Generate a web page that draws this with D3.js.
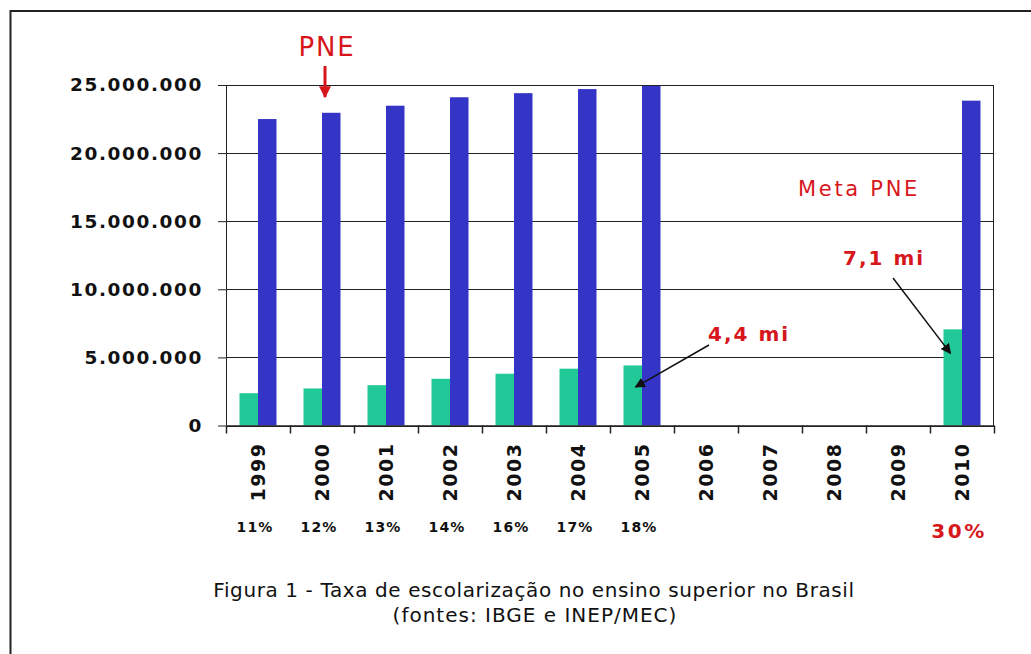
<!DOCTYPE html>
<html>
<head>
<meta charset="utf-8">
<script src="https://cdn.jsdelivr.net/npm/d3@7"></script>
<style>
    body { margin: 0; background: #fff; }
    svg { display: block; }
    .axis text { font-family: "DejaVu Sans", Verdana, sans-serif; font-weight: bold; fill: #111; }
    .axis path, .axis line { stroke: #222; }
</style>
</head>
<body>
<div id="chart"></div>
<script>
// anos, matriculas no ensino superior e populacao 18-24 anos
var years = ["1999", "2000", "2001", "2002", "2003", "2004", "2005", "2006", "2007", "2008", "2009", "2010"];
var matriculas = [2370000, 2720000, 2960000, 3430000, 3800000, 4170000, 4410000, null, null, null, null, 7060000];
var populacao = [22500000, 22960000, 23480000, 24100000, 24400000, 24700000, 24930000, null, null, null, null, 23850000];
var taxas = ["11%", "12%", "13%", "14%", "16%", "17%", "18%", "", "", "", "", "30%"];
var yTicks = [0, 5000000, 10000000, 15000000, 20000000, 25000000];

var red = "#d7161c";

var svg = d3.select("#chart").append("svg")
    .attr("width", 1031)
    .attr("height", 654);

// moldura (so borda esquerda e superior aparecem no recorte)
svg.append("path")
    .attr("d", "M10.5,654V11H1031")
    .attr("fill", "none")
    .attr("stroke", "#222")
    .attr("stroke-width", 2);

var margin = {top: 85, right: 37, bottom: 228.5, left: 226},
    width = 1031 - margin.left - margin.right,
    height = 654 - margin.top - margin.bottom,
    g = svg.append("g").attr("transform", "translate(" + margin.left + "," + margin.top + ")");

var x = d3.scaleBand()
    .domain(years)
    .range([0, width]);

var xs = d3.scaleBand()
    .domain(["mat", "pop"])
    .range([0, x.bandwidth()])
    .paddingOuter(0.73);

var y = d3.scaleLinear()
    .domain([0, 25000000])
    .range([height, 0]);

var br = d3.formatLocale({decimal: ",", thousands: ".", grouping: [3], currency: ["R$", ""]});
var fmt = br.format(",d");

// grade horizontal
g.selectAll(".grid")
    .data(yTicks)
    .enter().append("line")
    .attr("class", "grid")
    .attr("x1", 0)
    .attr("x2", width)
    .attr("y1", function (d) { return Math.round(y(d)) + 0.5; })
    .attr("y2", function (d) { return Math.round(y(d)) + 0.5; })
    .attr("stroke", "#222")
    .attr("stroke-width", 1.2);

g.append("line")
    .attr("x1", width - 0.5).attr("x2", width - 0.5)
    .attr("y1", 0).attr("y2", height)
    .attr("stroke", "#222");

var data = years.map(function (d, i) {
    return {year: d, mat: matriculas[i], pop: populacao[i]};
});

var groups = g.selectAll(".ano")
    .data(data)
    .enter().append("g")
    .attr("class", "ano")
    .attr("transform", function (d) { return "translate(" + x(d.year) + ",0)"; });

groups.filter(function (d) { return d.mat != null; })
    .append("rect")
    .attr("x", xs("mat"))
    .attr("width", xs.bandwidth())
    .attr("y", function (d) { return y(d.mat); })
    .attr("height", function (d) { return height - y(d.mat); })
    .attr("fill", "#21c898");

groups.filter(function (d) { return d.pop != null; })
    .append("rect")
    .attr("x", xs("pop"))
    .attr("width", xs.bandwidth())
    .attr("y", function (d) { return y(d.pop); })
    .attr("height", function (d) { return height - y(d.pop); })
    .attr("fill", "#3434c6");

// eixo y
var yAxis = g.append("g")
    .attr("class", "axis axis--y")
    .call(d3.axisLeft(y).tickValues(yTicks).tickFormat(fmt).tickSize(8).tickPadding(15));
yAxis.select(".domain").remove();
yAxis.append("line").attr("x1", 0.5).attr("x2", 0.5).attr("y1", 0).attr("y2", height).attr("stroke", "#222");
yAxis.selectAll("text")
    .style("font-size", "18.5px")
    .style("letter-spacing", "1.6px");

// eixo x
var xAxis = g.append("g")
    .attr("class", "axis axis--x")
    .attr("transform", "translate(0," + height + ")")
    .call(d3.axisBottom(x).tickSize(0).tickPadding(0));
xAxis.select(".domain").attr("stroke-width", 1.5);
xAxis.selectAll("text")
    .attr("transform", "rotate(-90)")
    .attr("x", -17)
    .attr("y", 0)
    .attr("dy", "0.36em")
    .attr("text-anchor", "end")
    .style("font-size", "19px")
    .style("letter-spacing", "1.5px");

xAxis.selectAll(".div")
    .data(years.concat(["end"]))
    .enter().append("line")
    .attr("class", "div")
    .attr("x1", function (d, i) { return i * x.step() + 0.5; })
    .attr("x2", function (d, i) { return i * x.step() + 0.5; })
    .attr("y1", 0)
    .attr("y2", 8)
    .attr("stroke", "#222")
    .attr("stroke-width", 1.5);

// taxas de escolarizacao
g.selectAll(".taxa")
    .data(taxas.map(function (t, i) { return {t: t, year: years[i]}; }))
    .enter().append("text")
    .attr("class", "taxa")
    .attr("x", function (d) { return x(d.year) + x.bandwidth() / 2 - 3; })
    .attr("y", function (d) { return d.year === "2010" ? height + 112 : height + 106; })
    .attr("text-anchor", "middle")
    .attr("font-family", "'DejaVu Sans', Verdana, sans-serif")
    .attr("font-weight", "bold")
    .attr("font-size", function (d) { return d.year === "2010" ? 20 : 14; })
    .attr("letter-spacing", function (d) { return d.year === "2010" ? 2.5 : 1.2; })
    .attr("fill", function (d) { return d.year === "2010" ? red : "#111"; })
    .text(function (d) { return d.t; });

// anotacoes
var defs = svg.append("defs");
defs.append("marker").attr("id", "headBlack")
    .attr("viewBox", "0 0 10 10").attr("refX", 9).attr("refY", 5)
    .attr("markerWidth", 7).attr("markerHeight", 7).attr("orient", "auto")
    .append("path").attr("d", "M0,0L10,5L0,10z").attr("fill", "#111");
defs.append("marker").attr("id", "headRed")
    .attr("viewBox", "0 0 10 10").attr("refX", 9).attr("refY", 5)
    .attr("markerWidth", 4).attr("markerHeight", 5).attr("orient", "auto")
    .append("path").attr("d", "M0,0L10,5L0,10z").attr("fill", red);

var ann = svg.append("g")
    .attr("font-family", "'DejaVu Sans', Verdana, sans-serif")
    .attr("fill", red);

var xPne = margin.left + x("2000") + x.bandwidth() / 2 + 3;
ann.append("text")
    .attr("x", xPne + 2).attr("y", 56)
    .attr("text-anchor", "middle")
    .attr("font-size", 26)
    .attr("letter-spacing", 1.8)
    .text("PNE");
ann.append("line")
    .attr("x1", xPne).attr("x2", xPne)
    .attr("y1", 66).attr("y2", 97)
    .attr("stroke", red).attr("stroke-width", 3)
    .attr("marker-end", "url(#headRed)");

ann.append("text")
    .attr("x", 798).attr("y", 196)
    .attr("font-size", 21)
    .attr("letter-spacing", 2.7)
    .text("Meta PNE");

ann.append("text")
    .attr("x", 843).attr("y", 265)
    .attr("font-size", 20)
    .attr("font-weight", "bold")
    .attr("letter-spacing", 2)
    .text("7,1 mi");

ann.append("text")
    .attr("x", 708).attr("y", 341)
    .attr("font-size", 20)
    .attr("font-weight", "bold")
    .attr("letter-spacing", 2)
    .text("4,4 mi");

var tip71 = [margin.left + x("2010") + xs("mat") + 7, margin.top + y(matriculas[11] * 0.75)];
var tip44 = [margin.left + x("2005") + xs("mat") + 12, margin.top + y(matriculas[6] * 0.64)];

ann.append("line")
    .attr("x1", 893).attr("y1", 278)
    .attr("x2", tip71[0]).attr("y2", tip71[1])
    .attr("stroke", "#111").attr("stroke-width", 1.5)
    .attr("marker-end", "url(#headBlack)");
ann.append("line")
    .attr("x1", 709).attr("y1", 345)
    .attr("x2", tip44[0]).attr("y2", tip44[1])
    .attr("stroke", "#111").attr("stroke-width", 1.5)
    .attr("marker-end", "url(#headBlack)");

// legenda da figura
var cap = svg.append("g")
    .attr("font-family", "'DejaVu Sans', Verdana, sans-serif")
    .attr("font-size", 20)
    .attr("fill", "#111")
    .attr("text-anchor", "middle");
cap.append("text").attr("x", 534).attr("y", 597).attr("letter-spacing", 0.6)
    .text("Figura 1 - Taxa de escolarização no ensino superior no Brasil");
cap.append("text").attr("x", 535).attr("y", 622).attr("letter-spacing", 1)
    .text("(fontes: IBGE e INEP/MEC)");
</script>
</body>
</html>
